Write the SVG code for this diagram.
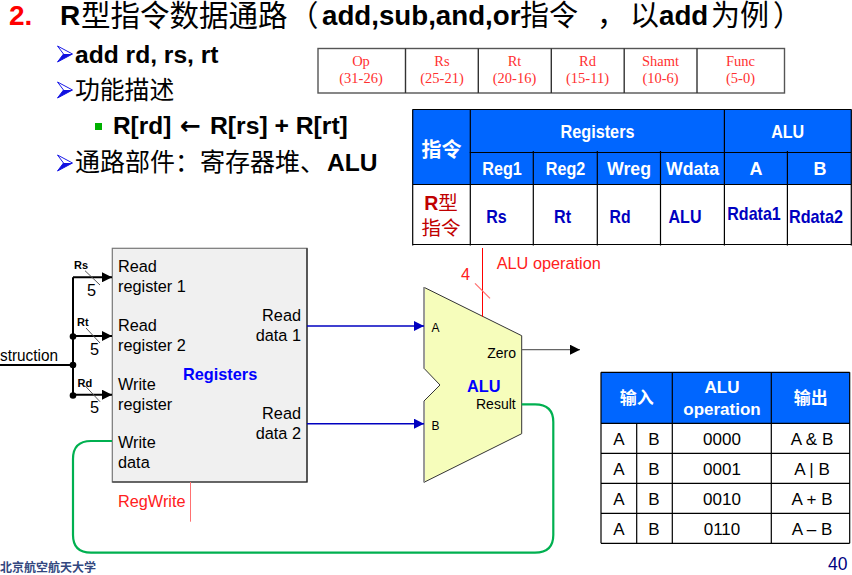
<svg xmlns="http://www.w3.org/2000/svg" width="852" height="575" viewBox="0 0 852 575">
<style>
text{font-family:"Liberation Sans","Noto Sans CJK SC",sans-serif;fill:#000}
.b{font-weight:700}
.t{font-size:16.3px}
.m{text-anchor:middle}
.e{text-anchor:end}
.bit{font-family:"Liberation Serif","Noto Sans CJK SC",serif;font-size:14.5px;fill:#ff3030;text-anchor:middle}
.h{font-weight:700;fill:#fff;font-size:18px;text-anchor:middle}
.v{font-weight:700;fill:#0000c0;font-size:19px;text-anchor:middle}
.c{font-size:17px;text-anchor:middle}
.red{fill:#ff2020}
.g{fill:none;stroke:#00b050;stroke-width:2.2}
.bus{fill:none;stroke:#000;stroke-width:2}
.blue{fill:none;stroke:#0000c0;stroke-width:1.5}
.grid{stroke:#000;stroke-width:1.2;fill:none}
.bgrid{stroke:#555;stroke-width:1.4;fill:none}
.tick{stroke:#555;stroke-width:1;fill:none}
.bo{fill:#fff;stroke:#1818e8;stroke-width:1}
.bf{fill:#1010e0}
</style>
<defs>
<marker id="ab" markerWidth="11" markerHeight="10" refX="10" refY="5" orient="auto" markerUnits="userSpaceOnUse"><path d="M0 0L10 5L0 10z" fill="#000"/></marker>
<marker id="abl" markerWidth="11" markerHeight="10" refX="10" refY="5" orient="auto" markerUnits="userSpaceOnUse"><path d="M0 0L10 5L0 10z" fill="#0000c0"/></marker>
<g id="bullet"><path d="M0 0L15 8L0 16L6 8z" class="bo"/><path d="M6 8H15L0 16z" class="bf"/></g>
</defs>
<g id="title">
<text x="9" y="25" class="b" font-size="28" style="fill:#f00">2.</text>
<text x="60" y="25" class="b" font-size="28">R</text>
<text x="81" y="26" font-size="29.500">型指令数据通路</text>
<text x="289" y="26" font-size="29.500">（</text>
<text x="322" y="25" class="b" font-size="27.700">add,sub,and,or</text>
<text x="520" y="26" font-size="29">指令</text>
<text x="597" y="26" font-size="29">，</text>
<text x="630" y="26" font-size="29">以</text>
<text x="659" y="25" class="b" font-size="27.700">add</text>
<text x="711" y="26" font-size="29">为例</text>
<text x="773" y="26" font-size="29">）</text>
</g>
<g id="bullets">
<use href="#bullet" x="57.5" y="46"/>
<text x="75" y="62.5" class="b" font-size="24.6">add rd, rs, rt</text>
<use href="#bullet" x="57.5" y="82"/>
<text x="75" y="99" font-size="24.8">功能描述</text>
<rect x="95" y="123" width="7" height="7" fill="#00b000"/>
<text x="113" y="134" class="b" font-size="24.4">R[rd]</text>
<text x="180" y="134" class="b" font-size="25" style="font-family:'DejaVu Sans',sans-serif">←</text>
<text x="210" y="134" class="b" font-size="24.7">R[rs] + R[rt]</text>
<use href="#bullet" x="57.5" y="155"/>
<text x="75" y="171" font-size="25">通路部件：寄存器堆、</text>
<text x="327" y="171" class="b" font-size="24.6">ALU</text>
</g>
<g id="bit-format">
<rect x="318" y="48.5" width="466.500" height="44.500" class="bgrid"/>
<path d="M405.500 48.500V93M478.300 48.500V93M551.300 48.500V93M624.200 48.500V93M697 48.500V93" class="bgrid" style="stroke:#333"/>
<text x="361" y="66" class="bit">Op</text><text x="361" y="83" class="bit">(31-26)</text>
<text x="442" y="66" class="bit">Rs</text><text x="442" y="83" class="bit">(25-21)</text>
<text x="514.500" y="66" class="bit">Rt</text><text x="514.500" y="83" class="bit">(20-16)</text>
<text x="587.500" y="66" class="bit">Rd</text><text x="587.500" y="83" class="bit">(15-11)</text>
<text x="660.500" y="66" class="bit">Shamt</text><text x="660.500" y="83" class="bit">(10-6)</text>
<text x="740.500" y="66" class="bit">Func</text><text x="740.500" y="83" class="bit">(5-0)</text>
</g>
<g id="control-table">
<rect x="412.500" y="109.500" width="439" height="75" fill="#0066ff"/>
<path d="M412.500 109.500H851.500M469.500 152.500H851.500M412.500 184.500H851.500M412.500 244.500H851.500M412.700 109.500V245.500M470.300 109.500V245.500M533.300 151V245.500M597.300 151V245.500M660.500 151V245.500M724.400 109.500V245.500M787.400 151V245.500M851.300 109.500V245.500" class="grid"/>
<text x="441.500" y="156.500" class="h" style="font-size:20px">指令</text>
<text x="597.500" y="137.500" class="h" textLength="74" lengthAdjust="spacingAndGlyphs">Registers</text>
<text x="787.700" y="137.500" class="h" textLength="33" lengthAdjust="spacingAndGlyphs">ALU</text>
<text x="502" y="175" class="h" textLength="39.500" lengthAdjust="spacingAndGlyphs">Reg1</text>
<text x="565.500" y="175" class="h" textLength="39.500" lengthAdjust="spacingAndGlyphs">Reg2</text>
<text x="629" y="175" class="h" textLength="44" lengthAdjust="spacingAndGlyphs">Wreg</text>
<text x="692.500" y="175" class="h" textLength="53" lengthAdjust="spacingAndGlyphs">Wdata</text>
<text x="756" y="175" class="h">A</text><text x="820" y="175" class="h">B</text>
<text x="441" y="210" font-size="19.500" class="m" style="fill:#c00000"><tspan font-weight="700">R</tspan>型</text>
<text x="441" y="235" font-size="19.500" class="m" style="fill:#c00000">指令</text>
<text x="496.500" y="223" class="v" textLength="20.500" lengthAdjust="spacingAndGlyphs">Rs</text>
<text x="562.500" y="223" class="v" textLength="17" lengthAdjust="spacingAndGlyphs">Rt</text>
<text x="620" y="223" class="v" textLength="21" lengthAdjust="spacingAndGlyphs">Rd</text>
<text x="685" y="223" class="v" textLength="33" lengthAdjust="spacingAndGlyphs">ALU</text>
<text x="754" y="220" class="v" textLength="53.500" lengthAdjust="spacingAndGlyphs">Rdata1</text>
<text x="816" y="223" class="v" textLength="54" lengthAdjust="spacingAndGlyphs">Rdata2</text>
</g>
<g id="registers">
<rect x="112.300" y="248.300" width="194.700" height="233.700" fill="#f0f0f0" stroke="#777" stroke-width="1.200"/>
<path d="M112.300 482H307V248.300" fill="none" stroke="#222" stroke-width="1.200"/>
<text x="118" y="272" class="t">Read</text><text x="118" y="292" class="t">register 1</text>
<text x="118" y="331" class="t">Read</text><text x="118" y="351" class="t">register 2</text>
<text x="118" y="390" class="t">Write</text><text x="118" y="410" class="t">register</text>
<text x="118" y="448" class="t">Write</text><text x="118" y="468" class="t">data</text>
<text x="301" y="321" class="t e">Read</text><text x="301" y="341" class="t e">data 1</text>
<text x="301" y="419" class="t e">Read</text><text x="301" y="439" class="t e">data 2</text>
<text x="183" y="379.500" class="t b" style="fill:#0000ff">Registers</text>
</g>
<g id="alu">
<path d="M424 287.300L521.700 335.700V433.700L424 482.300V401L440 385L424 368.300Z" fill="#f6fdbb" stroke="#333" stroke-width="1"/>
<path d="M424 287.300V368.300M424 401V482.300" stroke="#999" stroke-width="2" fill="none"/>
<text x="431.500" y="331.500" font-size="12">A</text>
<text x="431.500" y="429.500" font-size="12">B</text>
<text x="516" y="357.500" font-size="14" class="e">Zero</text>
<text x="467" y="391.500" class="b t" style="fill:#0000ff">ALU</text>
<text x="515.700" y="408.500" font-size="14" class="e">Result</text>
</g>
<g id="connectors">
<path d="M0 365H73M73 277.300V395.500" class="bus"/>
<path d="M73 277.300H112" class="bus" marker-end="url(#ab)"/>
<path d="M73 336H112" class="bus" marker-end="url(#ab)"/>
<path d="M73 394.700H112" class="bus" marker-end="url(#ab)"/>
<circle cx="73" cy="336.500" r="3.300"/><circle cx="73" cy="365" r="3.300"/><circle cx="73" cy="395.500" r="3.300"/>
<path d="M85 270.700L100 285M86 328L100 343M85 385.700L100 401.700" class="tick"/>
<path d="M307 326H424" class="blue" marker-end="url(#abl)"/>
<path d="M307 423.700H424" class="blue" marker-end="url(#abl)"/>
<path d="M521.700 349.700H580" stroke="#666" stroke-width="1.200" fill="none" marker-end="url(#ab)"/>
<path d="M521.700 404.300H535Q553.300 404.300 553.300 422V535Q553.300 552.700 535 552.700H91Q73 552.700 73 535V459Q73 441 91 441H112" class="g"/>
<path d="M190.500 482V521.700" stroke="#ff7070" stroke-width="1"/>
<path d="M482.500 248V316.700" stroke="#f00" stroke-width="1"/>
<path d="M475 283.300L490 298.300" stroke="#ff7070" stroke-width="1.200"/>
<text x="74" y="269" font-size="11" class="b">Rs</text>
<text x="77" y="326" font-size="11" class="b">Rt</text>
<text x="77.500" y="386.500" font-size="11" class="b">Rd</text>
<text x="87" y="296" class="t">5</text>
<text x="90" y="355" class="t">5</text>
<text x="90" y="412.500" class="t">5</text>
<text x="0" y="361" class="t" textLength="58" lengthAdjust="spacingAndGlyphs">struction</text>
<text x="118" y="506.500" class="t red">RegWrite</text>
<text x="461" y="279.500" class="t red">4</text>
<text x="496.700" y="268.500" class="t red">ALU operation</text>
</g>
<g id="alu-table">
<rect x="601" y="372.300" width="248.700" height="51" fill="#0066ff"/>
<path d="M601 372.300H849.700M601 423.300H849.700M601 453.300H849.700M601 483.300H849.700M601 513.300H849.700M601 543.300H849.700M601 372.300V543.300M636.700 423V543.300M672.300 372.300V543.300M771.300 372.300V543.300M849.700 372.300V543.300" class="grid"/>
<text x="636.700" y="404" class="h" style="font-size:17px">输入</text>
<text x="722" y="393" class="h" style="font-size:17px">ALU</text><text x="722" y="415" class="h" style="font-size:17px">operation</text>
<text x="810.700" y="404" class="h" style="font-size:17px">输出</text>
<text x="619" y="445" class="c">A</text><text x="654" y="445" class="c">B</text><text x="722" y="445" class="c">0000</text><text x="812" y="445" class="c">A &amp; B</text>
<text x="619" y="475" class="c">A</text><text x="654" y="475" class="c">B</text><text x="722" y="475" class="c">0001</text><text x="812" y="475" class="c">A | B</text>
<text x="619" y="505" class="c">A</text><text x="654" y="505" class="c">B</text><text x="722" y="505" class="c">0010</text><text x="812" y="505" class="c">A + B</text>
<text x="619" y="535" class="c">A</text><text x="654" y="535" class="c">B</text><text x="722" y="535" class="c">0110</text><text x="812" y="535" class="c">A – B</text>
</g>
<g id="footer">
<text x="0" y="572" font-size="12" font-weight="700" style="fill:#33477f;font-family:'Noto Sans CJK SC',sans-serif">北京航空航天大学</text>
<text x="828" y="570" font-size="17.500" style="fill:#000080">40</text>
</g>
</svg>
